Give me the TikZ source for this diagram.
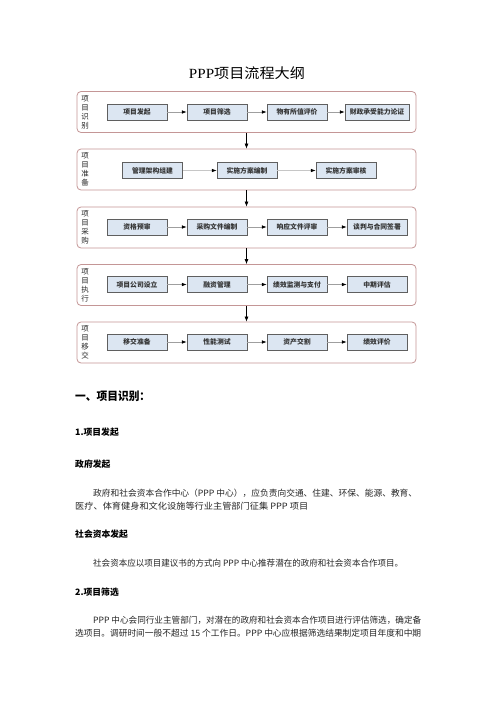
\documentclass[tikz,border=0pt]{standalone}
\usepackage{fontspec}
\usepackage{graphicx}
\setmainfont{Liberation Serif}
\newfontfamily\cjk{Noto Sans CJK SC}
\usetikzlibrary{arrows.meta}
\definecolor{frame}{RGB}{196,150,150}
\definecolor{boxfill}{RGB}{220,230,242}
\definecolor{boxline}{RGB}{95,95,95}
\newcommand\fitline[2]{\resizebox{#1}{\height}{#2}}
\begin{document}
\begin{tikzpicture}[x=1pt,y=-1pt,
  stage/.style={draw=frame, line width=0.8pt, rounded corners=4pt, fill=white,
    minimum width=339pt, minimum height=41pt, inner sep=0pt},
  stepbox/.style={draw=boxline, fill=boxfill, line width=0.5pt, minimum width=60pt,
    minimum height=16pt, inner sep=0pt, font=\cjk\bfseries\fontsize{6.8}{8}\selectfont, text=black!80},
  sidelab/.style={font=\cjk\fontsize{7.5}{9}\selectfont, align=center, inner sep=0pt, text=black!85},
  flow/.style={draw=gray!75, line width=0.6pt, -{Latex[length=5pt,width=3.6pt,color=black]}},
  flowlight/.style={draw=gray!45, line width=0.6pt, -{Latex[length=5pt,width=3.6pt,color=black]}},
  downarrow/.style={draw=black, line width=0.7pt, -{Latex[length=5pt,width=4pt]}},
  bodyline/.style={anchor=west, inner sep=0pt, font=\cjk\fontsize{8.7}{10}\selectfont, text=black!85},
  headline/.style={anchor=west, inner sep=0pt, font=\cjk\bfseries\fontsize{8.8}{10}\selectfont},
  bighead/.style={anchor=west, inner sep=0pt, font=\cjk\bfseries\fontsize{11.5}{13}\selectfont}
]
\useasboundingbox[fill=white] (0,0) rectangle (496,702);

% title
\node[inner sep=0pt] (title) at (247,73) {\fitline{116pt}{\fontsize{14}{16}\selectfont PPP\cjk 项目流程大纲}};

% stage containers
\node[stage] (c1) at (246.5,112) {};
\node[stage] (c2) at (246.5,169.5) {};
\node[stage] (c3) at (246.5,227.5) {};
\node[stage] (c4) at (246.5,285) {};
\node[stage] (c5) at (246.5,342.5) {};

% side labels
\node[sidelab] (s1) at (85,112) {项\\目\\识\\别};
\node[sidelab] (s2) at (85,169.5) {项\\目\\准\\备};
\node[sidelab] (s3) at (85,227.5) {项\\目\\采\\购};
\node[sidelab] (s4) at (85,285) {项\\目\\执\\行};
\node[sidelab] (s5) at (85,342.5) {项\\目\\移\\交};

% row 1
\node[stepbox] (a1) at (137,112) {项目发起};
\node[stepbox] (a2) at (217,112) {项目筛选};
\node[stepbox] (a3) at (297,112) {物有所值评价};
\node[stepbox, minimum width=64pt] (a4) at (377,112) {财政承受能力论证};
% row 2
\node[stepbox] (b1) at (152.5,170.5) {管理架构组建};
\node[stepbox] (b2) at (247,170.5) {实施方案编制};
\node[stepbox] (b3) at (346,170.5) {实施方案审核};
% row 3
\node[stepbox] (d1) at (137,227) {资格预审};
\node[stepbox] (d2) at (217,227) {采购文件编制};
\node[stepbox] (d3) at (297,227) {响应文件评审};
\node[stepbox] (d4) at (377,227) {谈判与合同签署};
% row 4
\node[stepbox] (e1) at (137,284.5) {项目公司设立};
\node[stepbox] (e2) at (217,284.5) {融资管理};
\node[stepbox] (e3) at (297,284.5) {绩效监测与支付};
\node[stepbox] (e4) at (377,284.5) {中期评估};
% row 5
\node[stepbox] (f1) at (137,342) {移交准备};
\node[stepbox] (f2) at (217,342) {性能测试};
\node[stepbox] (f3) at (297,342) {资产交割};
\node[stepbox] (f4) at (377,342) {绩效评价};

% horizontal arrows
\draw[flow] (a1) -- (a2);
\draw[flow] (a2) -- (a3);
\draw[flow] (a3) -- (a4);
\draw[flowlight] (b1) -- (b2);
\draw[flowlight] (b2) -- (b3);
\draw[flow] (d1) -- (d2);
\draw[flow] (d2) -- (d3);
\draw[flow] (d3) -- (d4);
\draw[flow] (e1) -- (e2);
\draw[flow] (e2) -- (e3);
\draw[flow] (e3) -- (e4);
\draw[flow] (f1) -- (f2);
\draw[flow] (f2) -- (f3);
\draw[flow] (f3) -- (f4);

% vertical arrows
\draw[downarrow] (c1) -- (c2);
\draw[downarrow] (c2) -- (c3);
\draw[downarrow] (c3) -- (c4);
\draw[downarrow] (c4) -- (c5);

% body text
\node[bighead] (h1) at (75,396) {\fitline{75pt}{一、项目识别：}};
\node[headline] (h2) at (75,432) {1.项目发起};
\node[headline] (h3) at (75,464) {政府发起};
\node[bodyline] (p1) at (93,493) {\fitline{324pt}{政府和社会资本合作中心（PPP 中心），应负责向交通、住建、环保、能源、教育、}};
\node[bodyline] (p2) at (75,506) {\fitline{233pt}{医疗、体育健身和文化设施等行业主管部门征集 PPP 项目}};
\node[headline] (h4) at (75,534) {社会资本发起};
\node[bodyline] (p3) at (93,563) {\fitline{310pt}{社会资本应以项目建议书的方式向 PPP 中心推荐潜在的政府和社会资本合作项目。}};
\node[headline] (h5) at (75,592) {2.项目筛选};
\node[bodyline] (p4) at (93,620) {\fitline{328pt}{PPP 中心会同行业主管部门，对潜在的政府和社会资本合作项目进行评估筛选，确定备}};
\node[bodyline] (p5) at (75,633) {\fitline{346pt}{选项目。调研时间一般不超过 15 个工作日。PPP 中心应根据筛选结果制定项目年度和中期}};
\end{tikzpicture}
\end{document}
